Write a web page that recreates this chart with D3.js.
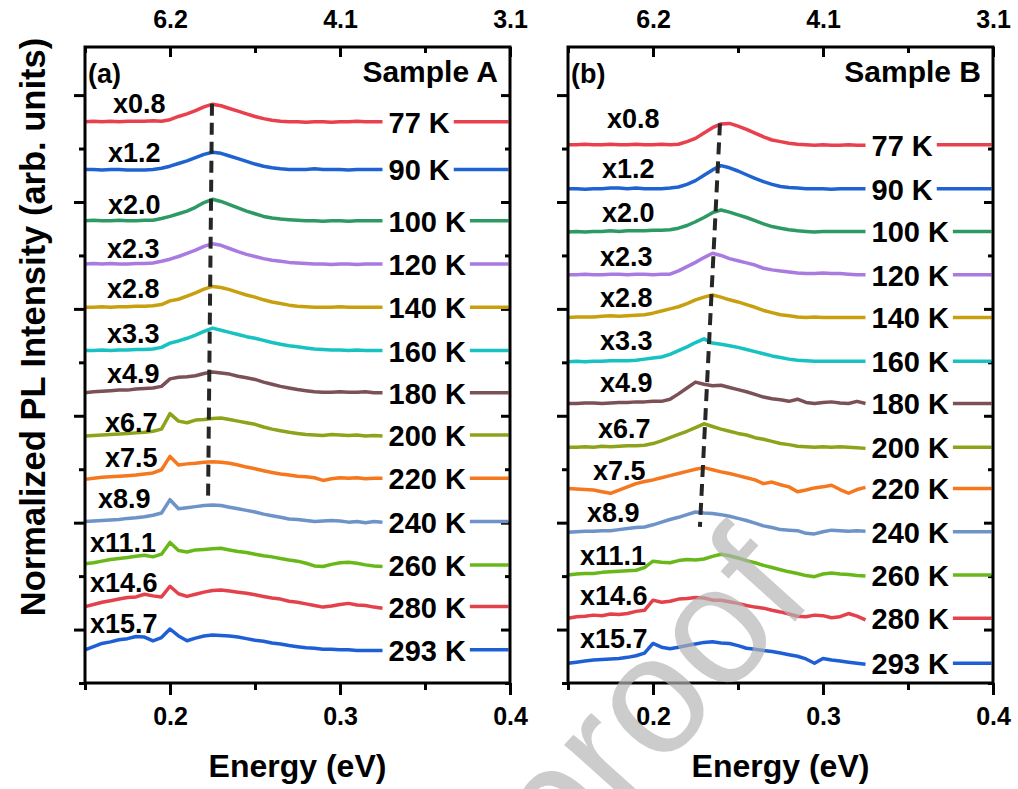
<!DOCTYPE html>
<html>
<head>
<meta charset="utf-8">
<script src="https://cdn.jsdelivr.net/npm/d3@7"></script>
<style>
  body { margin: 0; background: #fff; }
  text { font-family: "Liberation Sans", Arial, sans-serif; font-weight: bold; }
</style>
</head>
<body>
<svg id="chart" width="1018" height="789"></svg>
<script>

// photon energy grid (eV) shared by every spectrum
var energy = [0.150,0.155,0.160,0.165,0.170,0.175,0.180,0.185,0.190,0.195,
              0.200,0.205,0.210,0.215,0.220,0.225,0.230,0.235,0.240,0.245,
              0.250,0.255,0.260,0.265,0.270,0.275,0.280,0.285,0.290,0.295,
              0.300,0.305,0.310,0.315,0.320,0.325];

var temps = ["77 K","90 K","100 K","120 K","140 K","160 K","180 K","200 K","220 K","240 K","260 K","280 K","293 K"];
var colors = ["#e8414d","#1f63d1","#2e9a63","#a97be0","#c8a00f","#19c2c2","#7b5157","#8ea31a","#f5781f","#6e93c8","#69b81a","#e3414b","#1f5fd6"];
var factorsA = ["x0.8","x1.2","x2.0","x2.3","x2.8","x3.3","x4.9","x6.7","x7.5","x8.9","x11.1","x14.6","x15.7"];
var factorsB = ["x0.8","x1.2","x2.0","x2.3","x2.8","x3.3","x4.9","x6.7","x7.5","x8.9","x11.1","x14.6","x15.7"];

// vertical offsets of the stacked spectra (arb. units)
var offsetsA = [105.0,96.1,86.5,78.4,70.3,62.2,54.3,46.4,38.3,30.2,22.1,14.3,6.2];
var offsetsB = [100.7,92.5,84.5,76.4,68.4,60.2,52.3,44.1,36.4,28.3,20.2,12.1,3.7];

// Sample A spectra
var a77  = [0.0,0.1,0.0,0.1,0.0,0.1,0.1,0.1,0.2,0.1,0.4,1.0,1.5,2.1,2.8,3.3,3.0,2.5,2.0,1.5,1.0,0.6,0.3,0.1,0.0,0.0,-0.1,0.0,0.0,-0.1,0.0,0.0,0.1,0.0,0.0,0.0];
var a90  = [0.0,0.0,-0.1,0.0,0.0,-0.1,-0.1,-0.1,0.0,0.2,0.6,1.1,1.6,2.2,2.8,3.2,3.0,2.5,2.0,1.5,1.0,0.6,0.3,0.1,0.0,0.0,0.0,0.1,0.0,0.0,0.0,-0.1,0.0,0.0,0.0,0.0];
var a100 = [0.0,0.1,0.0,0.0,0.1,0.0,0.0,0.1,0.1,0.4,0.8,1.3,1.8,2.5,3.4,4.0,3.6,3.0,2.4,1.8,1.3,0.8,0.5,0.3,0.2,0.1,0.0,0.0,-0.1,0.0,0.0,-0.1,0.0,0.0,0.0,0.0];
var a120 = [0.0,0.1,0.0,0.1,0.0,0.0,0.1,0.1,0.2,0.5,0.9,1.4,2.0,2.6,3.3,3.8,3.5,2.9,2.3,1.8,1.4,1.0,0.7,0.5,0.3,0.2,0.1,0.0,0.0,-0.1,0.0,0.0,-0.1,0.0,0.0,0.0];
var a140 = [0.0,0.0,0.1,0.0,0.1,0.1,0.2,0.2,0.3,0.5,1.2,1.5,2.1,2.7,3.4,3.9,3.7,3.3,2.8,2.3,1.9,1.4,1.0,0.7,0.4,0.2,0.1,0.0,0.0,0.0,0.1,0.0,0.0,0.0,0.0,0.0];
var a160 = [0.0,0.0,0.1,0.0,0.1,0.1,0.2,0.2,0.3,0.6,1.4,1.8,2.3,2.9,3.6,4.2,3.8,3.4,3.0,2.6,2.3,1.9,1.5,1.2,0.9,0.7,0.5,0.3,0.2,0.1,0.1,0.0,0.1,0.0,0.0,0.0];
var a180 = [0.0,0.2,0.3,0.4,0.5,0.5,0.7,0.8,0.9,1.2,2.6,2.9,3.0,3.2,3.6,3.9,3.7,3.5,3.1,2.8,2.5,2.0,1.6,1.2,0.9,0.6,0.4,0.2,0.1,0.1,0.2,0.1,0.1,0.2,0.0,0.0];
var a200 = [-0.2,-0.1,0.0,0.1,0.2,0.3,0.4,0.5,0.7,1.1,4.0,2.6,2.3,2.8,2.9,3.1,3.2,2.9,2.6,2.3,2.0,1.5,1.1,0.8,0.5,0.3,0.1,0.0,-0.1,0.1,0.0,-0.1,0.0,-0.2,-0.1,-0.2];
var a220 = [-0.2,0.0,0.2,0.3,0.4,0.5,0.6,0.8,1.0,1.6,4.1,2.5,2.7,2.8,3.0,3.1,3.0,2.8,2.5,2.1,1.8,1.4,1.1,0.8,0.6,0.4,0.3,0.1,-0.4,-0.1,0.1,0.0,0.1,-0.1,0.0,0.0];
var a240 = [0.0,0.1,0.2,0.3,0.4,0.6,0.7,0.9,1.2,1.6,4.1,2.4,2.6,2.8,3.0,3.1,3.0,2.7,2.4,2.1,1.8,1.4,1.1,0.8,0.5,0.4,0.2,0.0,0.1,0.2,0.1,-0.1,0.0,-0.2,0.0,-0.1];
var a260 = [0.2,0.4,0.7,1.0,1.2,1.4,1.6,1.8,1.5,2.0,4.2,2.7,2.4,2.8,2.9,3.0,3.1,2.8,2.5,2.3,2.0,1.7,1.5,1.2,0.9,0.7,0.3,-0.2,-0.3,0.1,0.4,0.5,0.3,0.0,-0.2,-0.3];
var a280 = [0.0,0.4,0.8,1.1,1.4,1.7,1.8,2.3,2.0,1.8,3.8,2.4,1.9,2.3,2.7,3.0,3.1,2.9,2.7,2.5,2.2,1.9,1.6,1.4,1.0,0.8,0.5,0.2,-0.1,0.1,0.4,0.6,0.3,0.2,-0.1,-0.3];
var a293 = [0.0,0.6,1.2,1.5,1.9,2.1,2.5,2.4,1.7,2.3,3.9,2.6,1.7,2.2,2.6,2.8,2.7,2.6,2.4,2.1,1.8,1.6,1.3,1.1,0.8,0.6,0.4,0.3,0.1,0.1,0.0,0.0,-0.1,-0.1,-0.1,-0.1];

// Sample B spectra
var b77  = [0.0,0.0,0.1,0.0,0.0,0.1,0.0,0.0,0.1,0.0,0.0,0.1,0.0,0.1,0.6,1.2,2.2,3.2,3.9,4.0,3.5,2.9,2.2,1.5,0.9,0.6,0.3,0.1,0.0,-0.1,0.0,-0.1,-0.1,0.0,-0.1,-0.1];
var b90  = [0.0,0.0,-0.1,0.0,0.0,0.1,0.1,0.0,0.1,0.0,0.0,0.0,0.1,0.3,0.8,1.5,2.5,3.5,4.3,3.9,3.3,2.6,1.9,1.3,0.8,0.4,0.2,0.1,0.0,0.0,0.0,-0.1,0.0,0.0,0.0,0.0];
var b100 = [-0.1,0.0,-0.1,0.0,0.0,0.1,0.0,0.1,0.1,0.1,0.2,0.2,0.3,0.6,1.1,1.8,2.6,3.5,4.0,3.6,3.1,2.6,2.0,1.4,0.9,0.6,0.3,0.1,0.0,-0.1,0.0,0.0,0.0,0.0,0.0,0.0];
var b120 = [0.0,0.0,0.1,0.0,0.0,0.1,0.1,0.0,0.1,0.1,0.0,0.1,0.1,0.7,1.5,2.3,3.2,4.0,3.6,3.0,2.6,2.2,1.8,1.2,0.9,0.7,0.5,0.3,0.2,0.2,0.3,0.2,0.2,0.1,0.0,0.0];
var b140 = [0.0,0.1,0.1,0.1,0.2,0.3,0.2,0.3,0.4,0.5,0.8,1.2,1.6,2.0,2.6,3.3,3.8,4.2,3.8,3.3,2.9,2.4,1.9,1.3,0.9,0.5,0.3,0.1,0.0,0.1,0.0,0.0,0.0,0.0,0.0,0.0];
var b160 = [-0.1,0.0,-0.1,0.0,0.0,0.1,0.1,0.1,0.2,0.4,0.6,0.8,1.3,2.0,2.7,3.5,4.2,3.4,3.2,2.9,2.6,2.2,1.8,1.4,1.0,0.7,0.4,0.2,0.1,0.0,0.0,0.0,0.0,0.0,0.0,0.0];
var b180 = [0.0,0.0,0.1,0.1,0.0,0.1,0.2,0.2,0.3,0.3,0.4,0.4,0.8,1.8,2.9,4.0,3.6,3.3,3.4,3.0,2.6,2.2,1.7,1.2,0.9,0.7,0.4,0.8,0.2,0.0,0.2,0.3,0.1,0.0,0.4,0.0];
var b200 = [0.0,0.0,0.1,0.0,0.2,0.1,0.2,0.3,0.3,0.4,0.7,1.2,1.8,2.4,3.0,3.7,4.4,3.9,3.4,3.0,2.6,2.3,1.8,1.5,1.1,0.7,0.5,0.2,0.1,0.0,0.1,0.0,0.1,0.0,-0.1,-0.2];
var b220 = [0.0,-0.1,-0.2,-0.3,-0.6,-0.9,-0.3,0.3,0.9,1.3,1.6,2.0,2.4,2.8,3.2,3.6,3.9,3.5,3.1,2.8,2.4,2.0,1.6,0.9,1.2,0.7,0.3,-0.6,-0.3,0.1,0.3,0.6,-0.2,-0.9,-0.2,0.2];
var b240 = [-0.1,0.0,0.1,0.1,0.2,0.2,0.4,0.6,0.8,0.9,1.3,1.8,2.3,2.7,3.2,3.7,3.5,3.4,3.2,2.9,2.5,2.1,1.6,1.1,0.8,0.4,0.3,0.2,-0.3,-0.4,0.0,0.3,0.2,0.1,0.2,0.1];
var b260 = [0.0,0.2,0.3,0.3,0.5,0.6,0.7,0.8,0.9,1.4,2.6,2.4,2.3,2.7,2.9,2.8,3.0,3.5,3.9,3.6,3.2,2.7,2.3,1.8,1.4,1.0,0.6,0.3,-0.1,-0.3,0.2,0.4,0.2,0.1,-0.1,-0.2];
var b280 = [0.0,0.3,0.4,0.6,0.5,0.8,0.7,0.9,1.3,1.5,3.4,3.0,3.2,3.6,3.7,3.9,3.8,3.4,3.4,3.1,2.8,2.4,2.1,1.9,1.5,1.2,0.8,0.4,0.3,0.6,0.5,0.1,0.3,0.9,0.4,-0.3];
var b293 = [0.0,0.2,0.4,0.6,0.7,0.8,0.9,1.1,1.4,1.9,3.7,3.0,2.7,3.0,3.3,3.6,3.9,4.0,3.8,3.7,3.3,2.8,2.6,2.4,2.2,1.9,1.6,1.3,0.8,0.0,0.9,0.6,0.4,0.2,0.0,-0.2];

var spectraA = [a77,a90,a100,a120,a140,a160,a180,a200,a220,a240,a260,a280,a293];
var spectraB = [b77,b90,b100,b120,b140,b160,b180,b200,b220,b240,b260,b280,b293];

// dashed guide through the main peak: [energy], [level]
var peakEnergyA = [0.2247, 0.2224];
var peakLevelA  = [108.4, 34.8];
var peakEnergyB = [0.2394, 0.2276];
var peakLevelB  = [104.7, 29.2];

// axis ticks
var xMajor = [0.2, 0.3, 0.4];
var xMinor = [0.15, 0.25, 0.35];
var bottomLabels = ["0.2", "0.3", "0.4"];
var topLabels = ["6.2", "4.1", "3.1"];
var yMajor = [10, 30, 50, 70, 90, 110];
var yMinor = [0, 20, 40, 60, 80, 100];

// label placement (px)
var tagXA  = [113,108,108,107,107,107,107,105,105,98,90,90,90];
var tagDyA = [-9,-7,-7,-6,-9,-8,-10,-3,-11,-14,-13,-15,-17];
var tagXB  = [607,602,602,600,600,600,600,598,593,587,580,580,580];
var tagDyB = [-17,-11,-9,-9,-10,-11,-11,-9,-8,-10,-10,-13,-15];

var svg = d3.select("#chart");
var top_ = 47, bottom = 683;
var y = d3.scaleLinear().domain([0, 119]).range([bottom, top_]);

function styleAxis(g) {
    g.select(".domain").remove();
    g.selectAll(".tick line").attr("stroke", "#000").attr("stroke-width", 3);
    g.attr("font-family", null).attr("font-size", null);
}

function drawPanel(p) {
    var x = d3.scaleLinear().domain([0.15, 0.4]).range([p.left, p.right]);
    var g = svg.append("g");

    // ticks
    g.append("g").attr("transform", "translate(0," + bottom + ")")
        .call(d3.axisBottom(x).tickValues(xMajor).tickSize(12).tickFormat(function(d, i){ return bottomLabels[i]; }))
        .call(styleAxis)
        .selectAll("text").attr("y", 42).attr("dy", null)
        .attr("font-size", 25).attr("fill", "#000");
    g.append("g").attr("transform", "translate(0," + bottom + ")")
        .call(d3.axisBottom(x).tickValues(xMinor).tickSize(7).tickFormat(""))
        .call(styleAxis);
    g.append("g").attr("transform", "translate(0," + top_ + ")")
        .call(d3.axisTop(x).tickValues(xMajor).tickSize(-10).tickFormat(function(d, i){ return topLabels[i]; }))
        .call(styleAxis)
        .selectAll("text").attr("y", -19).attr("dy", null)
        .attr("font-size", 25).attr("fill", "#000");
    g.append("g").attr("transform", "translate(0," + top_ + ")")
        .call(d3.axisTop(x).tickValues(xMinor).tickSize(-6).tickFormat(""))
        .call(styleAxis);
    g.append("g").attr("transform", "translate(" + p.left + ",0)")
        .call(d3.axisLeft(y).tickValues(yMajor).tickSize(11).tickFormat(""))
        .call(styleAxis);
    g.append("g").attr("transform", "translate(" + p.left + ",0)")
        .call(d3.axisLeft(y).tickValues(yMinor).tickSize(6).tickFormat(""))
        .call(styleAxis);
    g.append("g").attr("transform", "translate(" + p.right + ",0)")
        .call(d3.axisRight(y).tickValues(yMajor).tickSize(-9).tickFormat(""))
        .call(styleAxis);
    g.append("g").attr("transform", "translate(" + p.right + ",0)")
        .call(d3.axisRight(y).tickValues(yMinor).tickSize(-5).tickFormat(""))
        .call(styleAxis);

    // spectra
    var line = d3.line()
        .x(function(d, i){ return x(energy[i]); })
        .y(function(d){ return y(d); });

    p.spectra.forEach(function(s, k) {
        var off = p.offsets[k];
        g.append("path")
            .datum(s.map(function(v){ return v + off; }))
            .attr("d", line)
            .attr("fill", "none")
            .attr("stroke", colors[k])
            .attr("stroke-width", 3.5)
            .attr("stroke-linejoin", "round");

        var t = g.append("text")
            .attr("x", x(energy[energy.length - 1]) + 6)
            .attr("y", y(off) + 11)
            .attr("font-size", 29)
            .text(temps[k]);
        var tx = +t.attr("x") + t.node().getComputedTextLength();
        g.append("line")
            .attr("x1", tx + 4).attr("x2", p.right - 1.5)
            .attr("y1", y(off)).attr("y2", y(off))
            .attr("stroke", colors[k]).attr("stroke-width", 3.5);

        g.append("text")
            .attr("x", p.tagX[k])
            .attr("y", y(off) + p.tagDy[k])
            .attr("font-size", 27)
            .text(p.factors[k]);
    });

    // peak guide
    g.append("path")
        .datum(p.peakE.map(function(e, i){ return [e, p.peakL[i]]; }))
        .attr("d", d3.line().x(function(d){ return x(d[0]); }).y(function(d){ return y(d[1]); }))
        .attr("fill", "none")
        .attr("stroke", "#262626")
        .attr("stroke-width", 4)
        .attr("stroke-dasharray", "12,7");

    // frame
    g.append("rect")
        .attr("x", p.left).attr("y", top_)
        .attr("width", p.right - p.left).attr("height", bottom - top_)
        .attr("fill", "none").attr("stroke", "#000").attr("stroke-width", 3);

    g.append("text").attr("x", p.left + 3).attr("y", 83).attr("font-size", 27).text(p.letter);
    g.append("text").attr("x", p.right - 12).attr("y", 82).attr("font-size", 30)
        .attr("text-anchor", "end").text(p.sample);
    g.append("text").attr("x", (p.left + p.right) / 2).attr("y", 777).attr("font-size", 32)
        .attr("text-anchor", "middle").text("Energy (eV)");
}

drawPanel({left: 85, right: 510, spectra: spectraA, offsets: offsetsA, factors: factorsA,
           tagX: tagXA, tagDy: tagDyA, peakE: peakEnergyA, peakL: peakLevelA,
           letter: "(a)", sample: "Sample A"});
drawPanel({left: 568, right: 993, spectra: spectraB, offsets: offsetsB, factors: factorsB,
           tagX: tagXB, tagDy: tagDyB, peakE: peakEnergyB, peakL: peakLevelB,
           letter: "(b)", sample: "Sample B"});

svg.append("text")
    .attr("transform", "translate(45,327) rotate(-90)")
    .attr("text-anchor", "middle")
    .attr("font-size", 34.5)
    .text("Normalized PL Intensity (arb. units)");

// watermark
svg.append("text")
    .attr("transform", "translate(688,740) rotate(-48)")
    .attr("text-anchor", "middle")
    .attr("font-size", 168)
    .style("font-weight", "normal")
    .attr("fill", "#b4b4b4")
    .attr("opacity", 0.68)
    .text("proof");

</script>
</body>
</html>
